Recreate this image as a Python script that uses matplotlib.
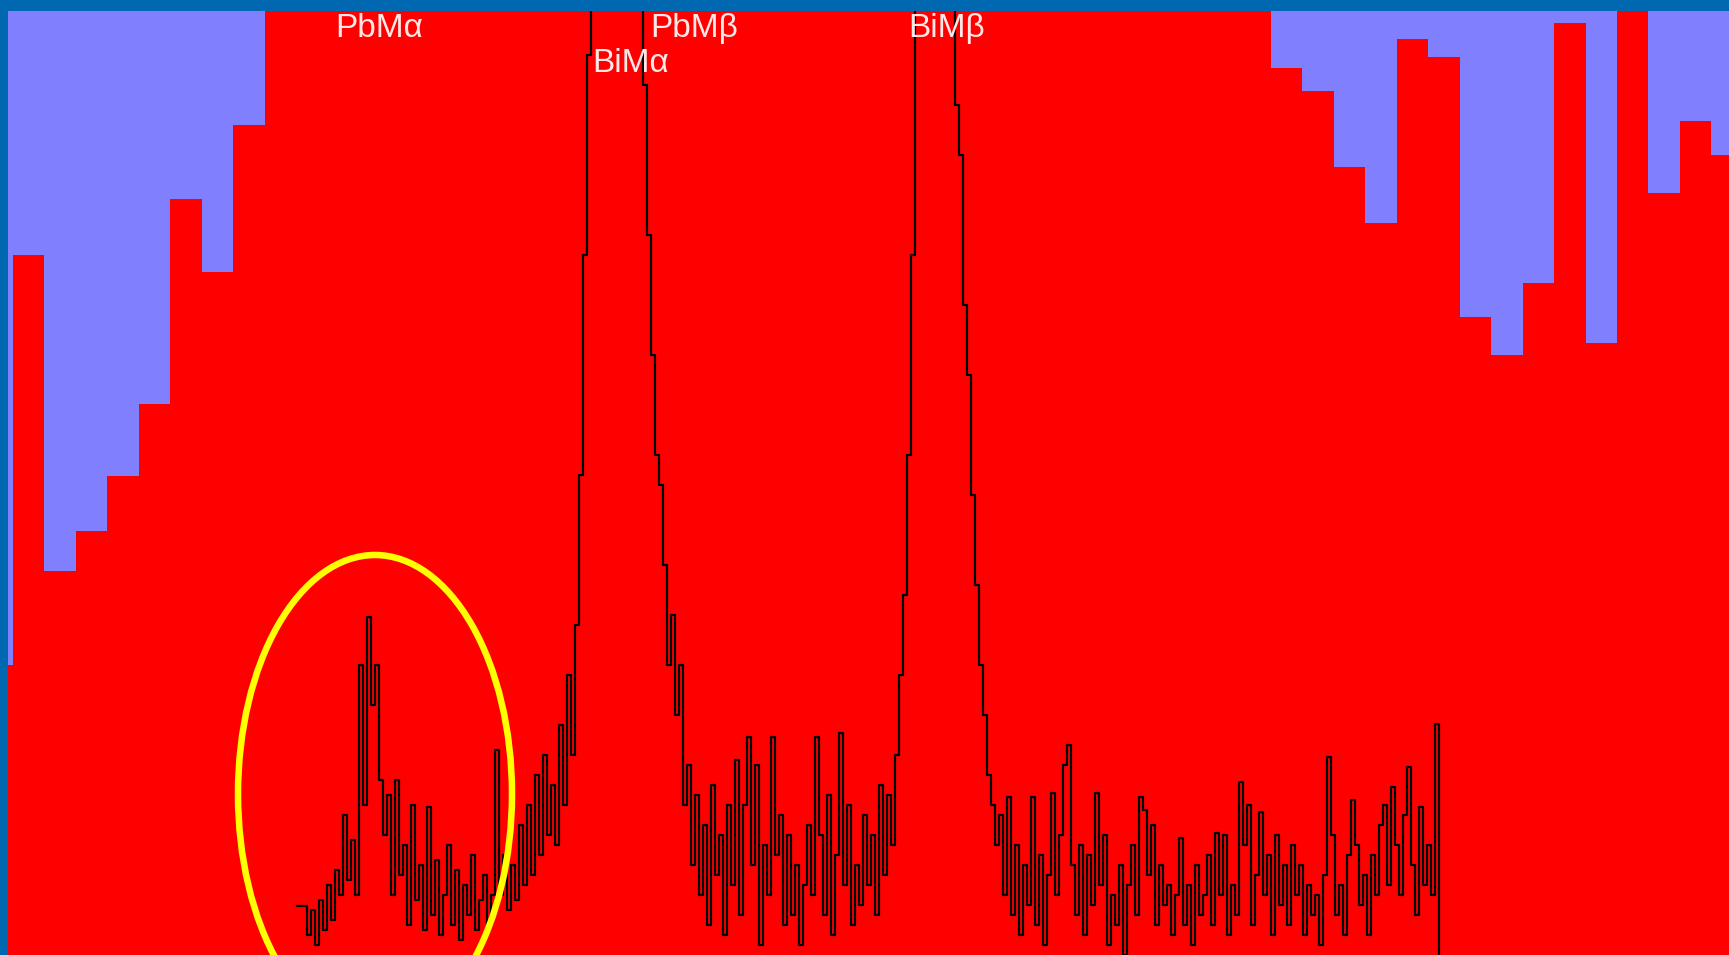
import numpy as np
import matplotlib
matplotlib.use("Agg")
import matplotlib.pyplot as plt
from matplotlib.patches import Ellipse

# screenshot units: x = pixel column, y = height above the bottom edge
BORDER_BLUE = "#0068b0"
BACK_LAVENDER = "#8080ff"
BAR_RED = "#ff0000"

# red histogram (bin left edges start one bin before 13 px)
BIN_START = 13
BIN_WIDTH = 31.45
bar_heights = [
    290, 700, 384, 424, 479, 551, 756, 683, 830,
    1000, 1000, 1000, 1000, 1000, 1000, 1000, 1000,
    1000, 1000, 1000, 1000, 1000, 1000, 1000, 1000,
    1000, 1000, 1000, 1000, 1000, 1000, 1000, 1000,
    1000, 1000, 1000, 1000, 1000, 1000, 1000, 1000,
    887, 864, 788, 732, 916, 898, 638, 600, 672, 932, 612, 1000, 762, 834, 800,
]

# black spectrum, one value per channel
CHANNEL_START = 297
CHANNEL_STEP = 4
spectrum = [
    49, 49, 49,
    20, 45, 10, 55, 25, 70, 35, 85, 60,
    140, 75, 115, 60, 290, 150, 338, 250, 290,
    175, 120, 160, 60, 175, 80, 110, 30, 150, 55,
    90, 25, 148, 40, 95, 20, 60, 110, 30, 85,
    15, 70, 40, 100, 25, 55, 80, 30, 60, 205,
    60, 100, 45, 90, 55, 130, 70, 150, 80, 180,
    100, 200, 120, 170, 110, 230, 150, 280, 200, 330,
    480, 700, 900,
    1100, 1100, 1100, 1100, 1100, 1100, 1100, 1100, 1100, 1100, 1100, 1100,
    950, 870, 720, 600, 500, 470, 390, 290, 340, 240, 290, 150, 190, 90,
    160, 60, 130, 30, 170, 80, 120, 20, 150, 70,
    195, 40, 150, 218, 90, 190, 10, 110, 60, 218,
    100, 140, 30, 120, 40, 90, 10, 70, 130, 60,
    218, 120, 40, 160, 20, 100, 222, 70, 150, 30,
    90, 50, 140, 70, 120, 40, 170, 80, 160, 110,
    200, 280, 360, 500, 700,
    1100, 1100, 1100, 1100, 1100, 1100, 1100, 1100, 1100, 1100,
    850, 800, 650, 580, 460, 370, 290, 240, 180, 150, 110,
    140, 60, 158, 40, 110, 20, 90, 50, 158, 30,
    100, 10, 80, 162, 60, 120, 190, 210, 90, 40,
    110, 20, 100, 50, 162, 70, 120, 10, 60, 30,
    90, 0, 70, 110, 40, 158, 145, 80, 130, 30,
    90, 50, 70, 20, 60, 117, 30, 70, 10, 90,
    40, 60, 100, 30, 122, 60, 120, 20, 70, 40,
    173, 110, 150, 30, 80, 143, 60, 100, 20, 120,
    50, 90, 30, 110, 60, 90, 20, 70, 40, 60,
    10, 80, 198, 120, 40, 70, 20, 100, 155, 110,
    50, 80, 20, 100, 60, 130, 150, 70, 168, 110,
    60, 140, 188, 90, 40, 148, 70, 110, 60, 231,
    -20,
]

# peak labels: text, left x, baseline height
peak_labels = ["PbM\u03b1", "BiM\u03b1", "PbM\u03b2", "BiM\u03b2"]
label_x = [335, 592, 650, 908]
label_y = [918, 883, 918, 918]

# yellow ring around the PbM alpha peak
ring_center = (375, 161)
ring_size = (274, 478)


fig = plt.figure(figsize=(17.29, 9.55), dpi=100, facecolor=BORDER_BLUE)
ax = fig.add_axes([8 / 1729, 0, 1721 / 1729, 944 / 955])
ax.set_facecolor(BACK_LAVENDER)

edges = BIN_START + BIN_WIDTH * np.arange(-1, len(bar_heights) - 1)
ax.bar(edges, bar_heights, width=BIN_WIDTH, align="edge",
       color=BAR_RED, linewidth=0)

xs = CHANNEL_START + CHANNEL_STEP * np.arange(len(spectrum))
ax.plot(xs, spectrum, color="black", lw=1.6, drawstyle="steps-mid")

for text, x, y in zip(peak_labels, label_x, label_y):
    ax.text(x, y, text, color="#ffe8e8", fontsize=24,
            family="Liberation Sans", va="baseline", ha="left")

# ring sits on top of the spectrum
ax.add_patch(Ellipse(ring_center, ring_size[0], ring_size[1],
                     fill=False, edgecolor="#ffff00", lw=4.7, zorder=4))

ax.set_xlim(8, 1729)
ax.set_ylim(0, 944)
ax.set_xticks([])
ax.set_yticks([])
for spine in ax.spines.values():
    spine.set_visible(False)

fig.savefig("out.png", dpi=100, facecolor=BORDER_BLUE)
